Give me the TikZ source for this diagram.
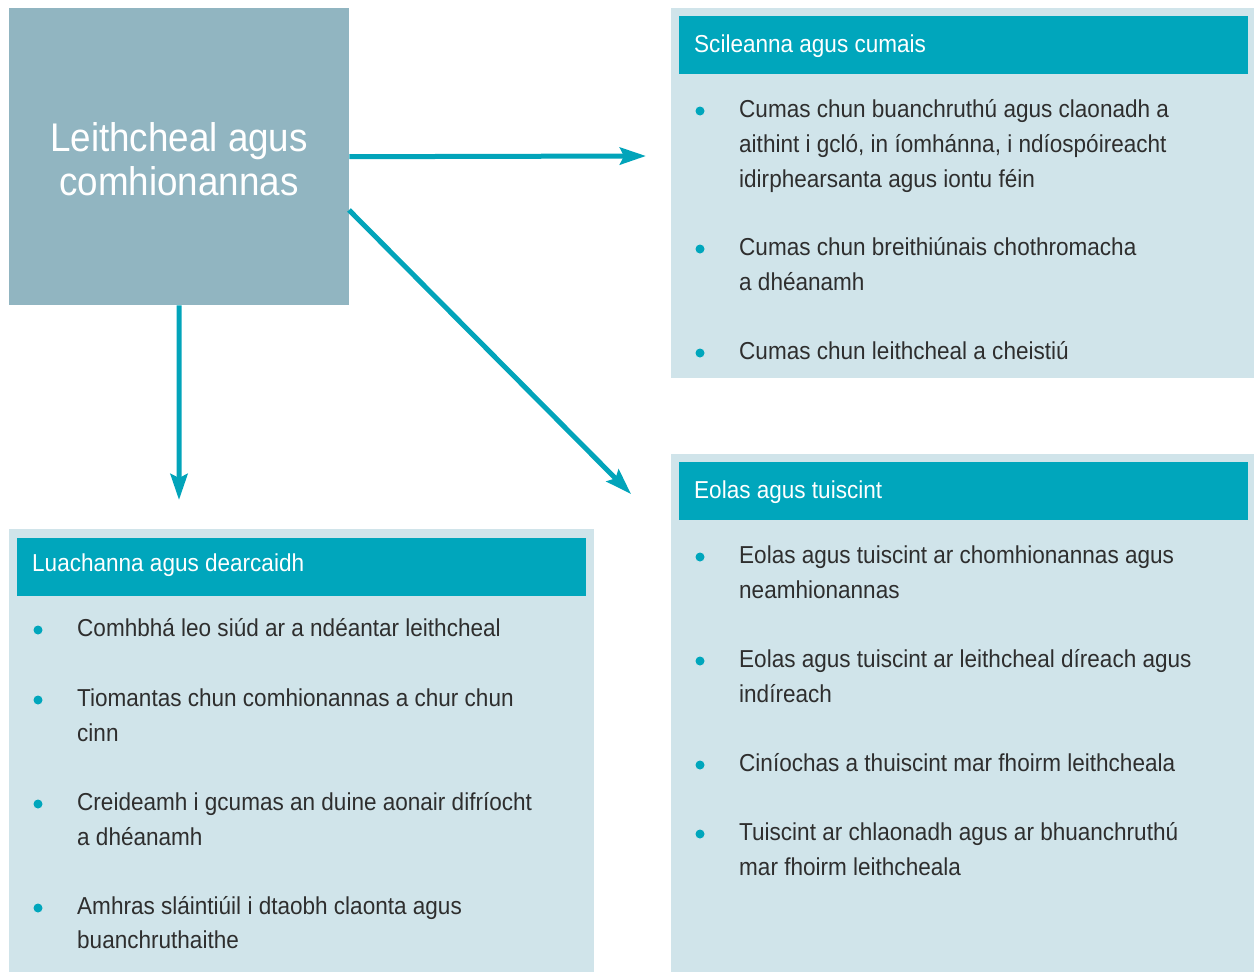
\documentclass[tikz,border=0pt]{standalone}
\usepackage{fontspec}
\setmainfont[FakeStretch=0.92]{Liberation Sans}
\usetikzlibrary{arrows.meta}
\definecolor{mainbox}{HTML}{91B5C1}
\definecolor{panelbg}{HTML}{D0E4EA}
\definecolor{headbg}{HTML}{00A6BC}
\definecolor{arrowc}{HTML}{02A4BA}
\definecolor{bodytxt}{HTML}{2E2E2E}
\tikzset{
  x=1pt, y=-1pt,
  panel/.style={fill=panelbg, draw=none, anchor=north west, inner sep=0pt},
  headbar/.style={fill=headbg, draw=none, anchor=north west, inner sep=0pt},
  headtxt/.style={anchor=base west, inner sep=0pt, text=white, font=\fontsize{24.5}{30}\selectfont},
  bodyline/.style={anchor=base west, inner sep=0pt, text=bodytxt, font=\fontsize{24.5}{35}\selectfont},
  bulletdot/.style={circle, fill=headbg, inner sep=0pt, minimum size=9pt},
  conn/.style={draw=arrowc, line width=5pt, -{Stealth[length=26pt,width=17pt,inset=4pt]}},
}
\begin{document}
\begin{tikzpicture}
\useasboundingbox (0,0) rectangle (1254,972);
% main box
\node[fill=mainbox, anchor=north west, inner sep=0pt, minimum width=340pt, minimum height=297pt] (main) at (9,8) {};
\node[anchor=base, inner sep=0pt, text=white, font=\fontsize{40}{44}\selectfont] (mt1) at (179,151) {Leithcheal agus};
\node[anchor=base, inner sep=0pt, text=white, font=\fontsize{40}{44}\selectfont] (mt2) at (179,195) {comhionannas};

% top-right panel
\node[panel, minimum width=583pt, minimum height=370pt] (pA) at (671,8) {};
\node[headbar, minimum width=569pt, minimum height=58pt] (hA) at (679,16) {};
\node[headtxt] (hAt) at (694,52) {Scileanna agus cumais};
\node[bulletdot] (bA1) at (700,111) {};
\node[bodyline] (tA1a) at (739,117) {Cumas chun buanchruthú agus claonadh a};
\node[bodyline] (tA1b) at (739,152) {aithint i gcló, in íomhánna, i ndíospóireacht};
\node[bodyline] (tA1c) at (739,187) {idirphearsanta agus iontu féin};
\node[bulletdot] (bA2) at (700,249) {};
\node[bodyline] (tA2a) at (739,255) {Cumas chun breithiúnais chothromacha};
\node[bodyline] (tA2b) at (739,290) {a dhéanamh};
\node[bulletdot] (bA3) at (700,353) {};
\node[bodyline] (tA3a) at (739,359) {Cumas chun leithcheal a cheistiú};

% bottom-right panel
\node[panel, minimum width=583pt, minimum height=518pt] (pB) at (671,454) {};
\node[headbar, minimum width=569pt, minimum height=58pt] (hB) at (679,462) {};
\node[headtxt] (hBt) at (694,498) {Eolas agus tuiscint};
\node[bulletdot] (bB1) at (700,557) {};
\node[bodyline] (tB1a) at (739,563) {Eolas agus tuiscint ar chomhionannas agus};
\node[bodyline] (tB1b) at (739,598) {neamhionannas};
\node[bulletdot] (bB2) at (700,661) {};
\node[bodyline] (tB2a) at (739,667) {Eolas agus tuiscint ar leithcheal díreach agus};
\node[bodyline] (tB2b) at (739,702) {indíreach};
\node[bulletdot] (bB3) at (700,765) {};
\node[bodyline] (tB3a) at (739,771) {Ciníochas a thuiscint mar fhoirm leithcheala};
\node[bulletdot] (bB4) at (700,834) {};
\node[bodyline] (tB4a) at (739,840) {Tuiscint ar chlaonadh agus ar bhuanchruthú};
\node[bodyline] (tB4b) at (739,875) {mar fhoirm leithcheala};

% bottom-left panel
\node[panel, minimum width=585pt, minimum height=443pt] (pC) at (9,529) {};
\node[headbar, minimum width=569pt, minimum height=58pt] (hC) at (17,538) {};
\node[headtxt] (hCt) at (32,571) {Luachanna agus dearcaidh};
\node[bulletdot] (bC1) at (38,630) {};
\node[bodyline] (tC1a) at (77,636) {Comhbhá leo siúd ar a ndéantar leithcheal};
\node[bulletdot] (bC2) at (38,700) {};
\node[bodyline] (tC2a) at (77,706) {Tiomantas chun comhionannas a chur chun};
\node[bodyline] (tC2b) at (77,741) {cinn};
\node[bulletdot] (bC3) at (38,804) {};
\node[bodyline] (tC3a) at (77,810) {Creideamh i gcumas an duine aonair difríocht};
\node[bodyline] (tC3b) at (77,845) {a dhéanamh};
\node[bulletdot] (bC4) at (38,908) {};
\node[bodyline] (tC4a) at (77,914) {Amhras sláintiúil i dtaobh claonta agus};
\node[bodyline] (tC4b) at (77,948) {buanchruthaithe};

% connectors
\coordinate (eA) at (646,156);
\coordinate (sB) at (349,210);
\coordinate (eB) at (631,494);
\coordinate (eC) at (179,500);
\draw[conn] (main.east) -- (eA);
\draw[conn] (sB) -- (eB);
\draw[conn] (main.south) -- (eC);
\end{tikzpicture}
\end{document}
